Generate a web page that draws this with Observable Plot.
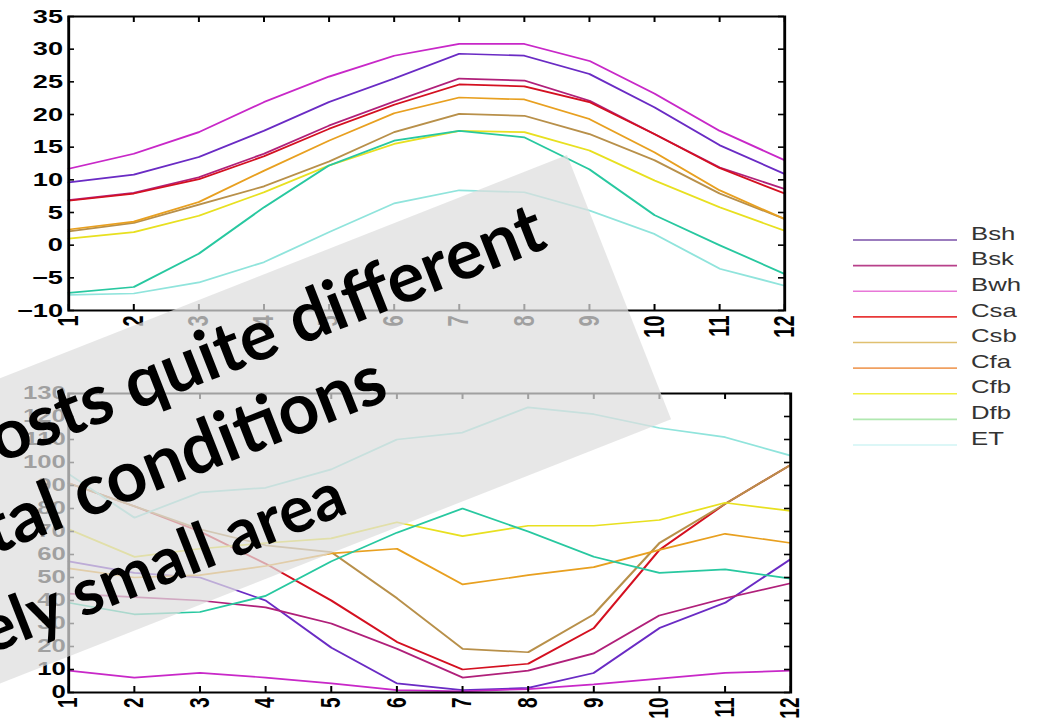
<!DOCTYPE html>
<html><head><meta charset="utf-8">
<script src="https://cdn.jsdelivr.net/npm/d3@7"></script>
<script src="https://cdn.jsdelivr.net/npm/@observablehq/plot@0.6"></script>
<style>
html,body{margin:0;padding:0;background:#fff;}
body{width:1038px;height:728px;overflow:hidden;position:relative;}
#stretch{position:absolute;left:0;top:0;width:726px;height:728px;transform:scaleX(1.43);transform-origin:0 0;}
#top{position:absolute;left:0;top:0;}
#bottom{position:absolute;left:0;top:370px;}
#legend{position:absolute;left:0;top:0;}
#overlay{position:absolute;left:0;top:0;}
</style></head>
<body>
<div id="stretch"><div id="top"></div><div id="bottom"></div><svg id="legend" width="726" height="728"></svg></div>
<svg id="overlay" width="1038" height="728"></svg>
<script>
// ---- data ----
const months = [1,2,3,4,5,6,7,8,9,10,11,12];
const seriesNames = ["Bsh","Bsk","Bwh","Csa","Csb","Cfa","Cfb","Dfb","ET"];
const lineColors   = ["#6a2bc4","#b0207a","#c828c8","#d41020","#b8904a","#e8a020","#e8e020","#28c8a0","#90e4dc"];
const legendColors = ["#7a50a8","#b8408a","#e878d8","#e83838","#e0c070","#f0a060","#f0f040","#b0e8b0","#d0f4f4"];

// mean monthly temperature (top panel)
const tempBsh = [9.6, 10.8, 13.5, 17.5, 21.9, 25.5, 29.3, 29.0, 26.2, 21.1, 15.3, 10.9];
const tempBsk = [6.9, 8.0, 10.4, 14.0, 18.3, 22.0, 25.5, 25.2, 22.1, 17.0, 11.9, 8.6];
const tempBwh = [11.7, 14.0, 17.3, 21.9, 25.8, 29.0, 30.8, 30.8, 28.2, 23.2, 17.5, 13.0];
const tempCsa = [6.8, 7.9, 10.1, 13.6, 17.8, 21.5, 24.6, 24.3, 21.9, 17.0, 11.8, 7.9];
const tempCsb = [2.1, 3.4, 6.2, 9.0, 12.8, 17.3, 20.1, 19.8, 17.0, 13.0, 7.9, 4.0];
const tempCfa = [2.4, 3.6, 6.6, 11.4, 16.0, 20.2, 22.6, 22.3, 19.3, 14.2, 8.4, 4.0];
const tempCfb = [1.0, 2.0, 4.5, 8.1, 12.2, 15.5, 17.5, 17.3, 14.5, 9.9, 5.8, 2.2];
const tempDfb = [-7.3, -6.4, -1.3, 5.8, 12.2, 16.0, 17.5, 16.5, 11.6, 4.6, 0.0, -4.4];
const tempET  = [-7.6, -7.4, -5.7, -2.6, 2.0, 6.4, 8.4, 8.1, 5.3, 1.7, -3.6, -6.2];

// monthly precipitation (bottom panel)
const precBsh = [57, 52, 50, 40, 19.5, 4, 1, 2, 8.5, 28, 39, 58];
const precBsk = [43, 41.5, 40, 37, 30, 19, 6.5, 9.5, 17, 33.5, 41, 47.5];
const precBwh = [9.5, 6.5, 8.5, 6.5, 4, 1, 0.5, 1.5, 3.5, 6, 8.5, 9.5];
const precCsa = [91, 81, 70, 56, 40, 22, 10, 12.5, 28, 62, 82, 99];
const precCsb = [91, 81, 71, 64, 61, 41, 19, 17.5, 34, 65, 82, 99];
const precCfa = [54, 50, 51, 55, 60.5, 62.5, 47, 51, 54.5, 62, 69, 65];
const precCfb = [71, 59, 62.5, 65, 67, 74, 68, 72.5, 72.5, 75, 82.5, 79];
const precDfb = [39, 34, 35, 42, 57, 69.5, 80, 70, 59, 52, 53.5, 49.5];
const precET  = [95, 76, 87, 89, 97, 110, 113, 124, 121, 115, 111, 103];

const tempTicks = [-10,-5,0,5,10,15,20,25,30,35];
const precTicks = [0,10,20,30,40,50,60,70,80,90,100,110,120,130];

const overlayLines = ["hosts quite different", "environmental conditions", "in a relatively small area"];

// ---- tables ----
const tempValues = [tempBsh,tempBsk,tempBwh,tempCsa,tempCsb,tempCfa,tempCfb,tempDfb,tempET];
const precValues = [precBsh,precBsk,precBwh,precCsa,precCsb,precCfa,precCfb,precDfb,precET];
const toTable = vals => seriesNames.flatMap((s,i) => vals[i].map((v,j) => ({series:s, month:months[j], value:v})));
const tempTable = toTable(tempValues);
const precTable = toTable(precValues);

const S = 1.43; // horizontal stretch of the pasted chart image
const W = 560;

function panel(table, yDomain, yTicks, opts) {
  const {height, left, right, top, bottom, fontSize, tickPad} = opts;
  const mL = left / S, mR = W - right / S;
  const innerW = W - mL - mR, innerH = height - top - bottom;
  const tl = 6; // tick length in px
  return Plot.plot({
    width: W, height,
    marginLeft: mL, marginRight: mR, marginTop: top, marginBottom: bottom,
    x: {domain: [1, 12], label: null},
    y: {domain: yDomain, label: null},
    color: {domain: seriesNames, range: lineColors},
    style: {fontFamily: "'Liberation Sans', Arial, sans-serif", fontSize: fontSize + "px", fontWeight: "bold", background: "transparent", overflow: "visible"},
    marks: [
      Plot.line(table, {x: "month", y: "value", z: "series", stroke: "series", strokeWidth: 1.7}),
      Plot.tickX(months, {x: d => d, insetTop: innerH - tl, stroke: "#000", strokeWidth: 1.4}),
      Plot.tickX(months, {x: d => d, insetBottom: innerH - tl, stroke: "#000", strokeWidth: 1.4}),
      Plot.tickY(yTicks, {y: d => d, insetRight: innerW - tl / S, stroke: "#000", strokeWidth: 1.6}),
      Plot.tickY(yTicks, {y: d => d, insetLeft: innerW - tl / S, stroke: "#000", strokeWidth: 1.6}),
      Plot.frame({stroke: "#000", strokeWidth: 2}),
      Plot.axisY({ticks: yTicks, tickSize: 0, tickPadding: tickPad, fontSize, fontWeight: "bold"}),
      Plot.axisX({ticks: months, tickSize: 0, tickPadding: 5, tickRotate: -90, fontSize: fontSize + 1, fontWeight: "bold"})
    ]
  });
}

document.getElementById("top").append(panel(tempTable, [-10, 35], tempTicks,
  {height: 345, left: 68, right: 784, top: 16, bottom: 35, fontSize: 19, tickPad: 4}));
document.getElementById("bottom").append(panel(precTable, [0, 130], precTicks,
  {height: 358, left: 68, right: 790, top: 23, bottom: 36, fontSize: 18, tickPad: 2}));

// ---- legend ----
const lg = d3.select("#legend");
const lgRow = d3.scalePoint().domain(seriesNames).range([240, 445]);
seriesNames.forEach((s, i) => {
  lg.append("line").attr("x1", 853 / S).attr("x2", 957 / S)
    .attr("y1", lgRow(s)).attr("y2", lgRow(s))
    .attr("stroke", legendColors[i]).attr("stroke-width", 1.6);
  lg.append("text").attr("x", 971 / S).attr("y", lgRow(s) - 5)
    .attr("dominant-baseline", "middle")
    .attr("font-family", "'Liberation Sans', Arial, sans-serif").attr("font-size", 18)
    .attr("fill", "#333").text(s);
});

// ---- rotated translucent text box over the slide ----
const ov = d3.select("#overlay");
const g = ov.append("g").attr("transform", "translate(567,155) rotate(-21.5)");
g.append("rect").attr("x", -1400).attr("y", 0).attr("width", 1400).attr("height", 284)
  .attr("fill", "rgb(222,222,222)").attr("fill-opacity", 0.72);
const lineEnds = [[-50, 79], [-253, 162], [-333, 253]];
const lineSizes = [70, 71, 65];
overlayLines.forEach((t, i) => {
  g.append("text").attr("x", lineEnds[i][0]).attr("y", lineEnds[i][1])
    .attr("text-anchor", "end")
    .attr("font-family", "Lato, 'Open Sans', sans-serif").attr("font-weight", 700)
    .attr("font-size", lineSizes[i]).attr("fill", "#000").text(t);
});
</script>
</body></html>
